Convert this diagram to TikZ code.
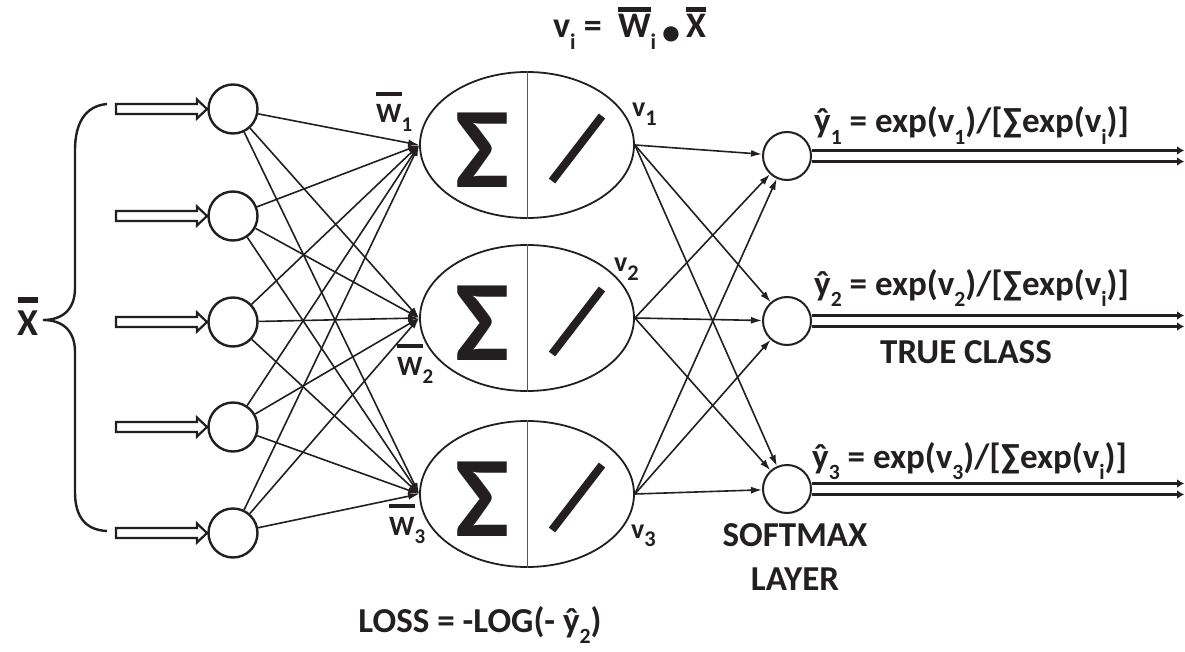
\documentclass[tikz,border=0pt]{standalone}
\usepackage{fontspec}
\setmainfont{Carlito}
\usetikzlibrary{arrows.meta,shapes.geometric,calc}
\definecolor{ink}{RGB}{35,31,32}
% lowered, reduced subscript
\newcommand\sbs[2][.62]{\raisebox{-.32em}{\scalebox{#1}{#2}}}
% bar over a letter, optional gap between bar and letter
\newcommand\ovl[2][.2em]{\vbox{\hrule height .15em\kern #1\hbox{#2}}}
\begin{document}
\begin{tikzpicture}[x=1pt,y=-1pt,
  every node/.style={text=ink},
  incirc/.style={circle, draw=ink, line width=2.4pt, minimum size=49pt, inner sep=0pt},
  outcirc/.style={circle, draw=ink, line width=2pt, minimum size=48pt, inner sep=0pt},
  hid/.style={ellipse, draw=ink, line width=1.8pt, minimum width=214pt, minimum height=146pt, inner sep=0pt},
  wire/.style={draw=ink, line width=1.6pt, -{Latex[length=11pt,width=7pt]}},
  outwire/.style={draw=ink, line width=3.4pt, -{Latex[length=7pt,width=9pt]}},
  inarrow/.style={draw=ink, fill=white, line width=2.2pt, line join=miter},
  sigmafont/.style={font=\bfseries\fontsize{115}{115}\selectfont, inner sep=0pt},
  biglbl/.style={font=\bfseries\fontsize{35}{40}\selectfont, inner sep=0pt},
  smalllbl/.style={font=\bfseries\fontsize{28}{32}\selectfont, inner sep=0pt},
]
\useasboundingbox (0,0) rectangle (1185,652);

% input brace
\draw[ink, line width=2.4pt]
  (107,104) .. controls (84,106) and (75,125) .. (75,150) -- (75,288)
  .. controls (75,310) and (62,320) .. (43,320)
  .. controls (62,320) and (75,330) .. (75,352) -- (75,492)
  .. controls (75,515) and (84,530) .. (107,531);
\node[font=\bfseries\fontsize{38}{40}\selectfont, inner sep=0pt, anchor=base] (xlab) at (28,335) {\ovl[.2em]{X}};

% input layer with hollow block arrows
\foreach \i/\y in {1/109,2/216,3/322,4/427,5/533}{
  \node[incirc] (i\i) at (233,\y) {};
  \draw[inarrow] (116,\y-5) -- (197,\y-5) -- (197,\y-9.5) -- (207,\y)
    -- (197,\y+9.5) -- (197,\y+5) -- (116,\y+5) -- cycle;
}

% hidden units: summation and linear activation
\foreach \j/\y in {1/145,2/318,3/494}{
  \node[hid] (h\j) at (527,\y) {};
  \draw[gray!70!black, line width=0.9pt] (h\j.north) -- (h\j.south);
  \node[sigmafont] (s\j) at ($(h\j)+(-44,5)$) {Σ};
  \draw[ink, line width=8pt] ($(h\j)+(25,36)$) -- ($(h\j)+(75,-29)$);
}

% softmax units
\foreach \k/\y in {1/156,2/321,3/489}{
  \node[outcirc] (o\k) at (787,\y) {};
  \coordinate (t\k) at (1184,\y-5.5);
  \coordinate (b\k) at (1184,\y+5.5);
  \draw[outwire] ([yshift=5.5pt]o\k.east) -- (t\k);
  \draw[outwire] ([yshift=-5.5pt]o\k.east) -- (b\k);
}

% connections
\foreach \i in {1,...,5}
  \foreach \j in {1,2,3}
    \draw[wire] (i\i) -- (h\j.west);
\foreach \j in {1,2,3}
  \foreach \k in {1,2,3}
    \draw[wire] (h\j.east) -- (o\k);

% labels
\node[font=\bfseries\fontsize{36}{40}\selectfont, inner sep=0pt, anchor=base west] (vf) at (553,38)
  {v\sbs{i} =\ \ \ovl[.06em]{W}\sbs{i}\,\raisebox{-.18em}{\textbullet}\,\ovl[.06em]{X}};
\node[smalllbl, anchor=base west] (w1) at (376,123) {\ovl[.3em]{W}\sbs[.75]{1}};
\node[smalllbl, anchor=base west] (w2) at (397,375) {\ovl[.3em]{W}\sbs[.75]{2}};
\node[smalllbl, anchor=base west] (w3) at (389,535) {\ovl[.3em]{W}\sbs[.75]{3}};
\node[smalllbl, anchor=base west] (v1) at (632,117) {v\sbs[.8]{1}};
\node[smalllbl, anchor=base west] (v2) at (614,272) {v\sbs[.8]{2}};
\node[smalllbl, anchor=base west] (v3) at (631,538) {v\sbs[.8]{3}};

\node[biglbl, anchor=base west] (y1) at (814,133) {ŷ\sbs{1} = exp(v\sbs{1})/[∑exp(v\sbs{i})]};
\node[biglbl, anchor=base west] (y2) at (814,295) {ŷ\sbs{2} = exp(v\sbs{2})/[∑exp(v\sbs{i})]};
\node[biglbl, anchor=base west] (y3) at (812,468) {ŷ\sbs{3} = exp(v\sbs{3})/[∑exp(v\sbs{i})]};
\node[biglbl] (tc) at (966,352) {TRUE CLASS};
\node[biglbl, align=center] (sm) at (795,557) {SOFTMAX\\[4pt]LAYER};
\node[biglbl, anchor=base] (loss) at (480,632) {LOSS = -LOG(- ŷ\sbs{2})};
\end{tikzpicture}
\end{document}
